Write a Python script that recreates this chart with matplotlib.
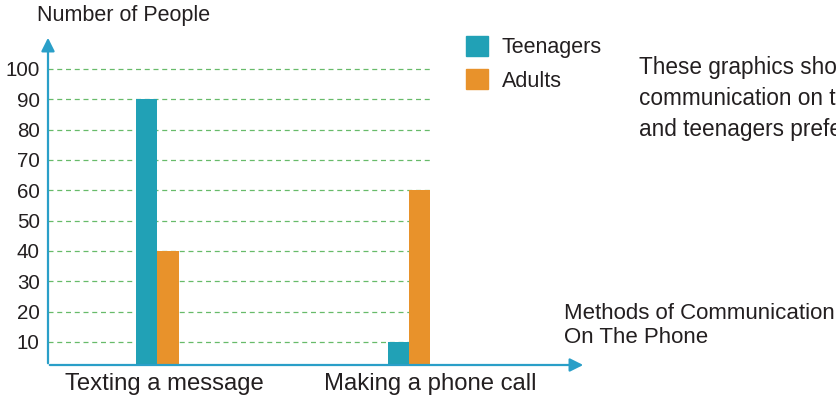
import numpy as np
import matplotlib
matplotlib.use("Agg")
import matplotlib.pyplot as plt
import matplotlib.transforms as mtransforms
from matplotlib.patches import Patch

plt.rcParams['font.family'] = ['Liberation Sans', 'DejaVu Sans']

# data
categories = ["Texting a message", "Making a phone call"]
teenagers = [90, 10]
adults = [40, 60]
series_names = ["Teenagers", "Adults"]
y_ticks = [10, 20, 30, 40, 50, 60, 70, 80, 90, 100]

teen_color = "#21a1b6"
adult_color = "#e8922b"
axis_color = "#2a9fc8"
grid_color = "#4caf50"
text_color = "#231f20"

W, H = 836, 400
fig = plt.figure(figsize=(W / 100, H / 100), dpi=100)

# axes box in pixel terms
left_px, right_px, bottom_px = 48, 430, 365
y_lo, y_hi = 2.4, 102
px_per_unit = 3.033
top_px = bottom_px - (y_hi - y_lo) * px_per_unit
ax = fig.add_axes([left_px / W, 1 - bottom_px / H,
                   (right_px - left_px) / W, (bottom_px - top_px) / H])

x = np.arange(len(categories))
width = 0.0855
ax.bar(x - width / 2, teenagers, width, color=teen_color, zorder=3)
ax.bar(x + width / 2, adults, width, color=adult_color, zorder=3)

ax.set_xlim(-0.435, 1.083)
ax.set_ylim(y_lo, y_hi)

for v in y_ticks:
    ax.axhline(v, color=grid_color, linestyle=(0, (4, 3)), linewidth=0.9, alpha=0.85, zorder=1)

for s in ax.spines.values():
    s.set_visible(False)

ax.set_yticks(y_ticks)
ax.set_yticklabels([str(v) for v in y_ticks], fontsize=14.8, color=text_color)
ax.tick_params(axis='y', length=0, pad=6)

ax.set_xticks(x)
ax.set_xticklabels(categories, fontsize=17.2, color=text_color)
ax.tick_params(axis='x', length=0, pad=6)
shifts = [6.5, 21]
for lab, dx in zip(ax.get_xticklabels(), shifts):
    lab.set_transform(lab.get_transform() + mtransforms.ScaledTranslation(dx / 100, 0, fig.dpi_scale_trans))

# axis arrows
ax.annotate("", xy=(left_px, H - 35), xytext=(left_px, H - bottom_px - 1),
            xycoords='figure pixels', textcoords='figure pixels',
            arrowprops=dict(arrowstyle='-|>', color=axis_color, lw=1.6, mutation_scale=20))
ax.annotate("", xy=(586, H - bottom_px), xytext=(left_px - 1, H - bottom_px),
            xycoords='figure pixels', textcoords='figure pixels',
            arrowprops=dict(arrowstyle='-|>', color=axis_color, lw=1.6, mutation_scale=20))

fig.text(37 / W, 1 - 16 / H, "Number of People", fontsize=15.5, color=text_color, va='center')
fig.text(564 / W, 1 - 325.5 / H, "Methods of Communication\nOn The Phone", fontsize=16,
         color=text_color, va='center', linespacing=1.2)

handles = [Patch(color=teen_color), Patch(color=adult_color)]
fig.legend(handles, series_names, loc='upper left', bbox_to_anchor=(466 / W, 1 - 36 / H),
           frameon=False, fontsize=15.5, handlelength=1.02, handleheight=1.07,
           handletextpad=0.65, labelspacing=0.5, borderpad=0, borderaxespad=0,
           labelcolor=text_color)

fig.text(639 / W, 1 - 98.5 / H,
         "These graphics show the\ncommunication on the phone\nand teenagers prefer",
         fontsize=16.3, color=text_color, va='center', linespacing=1.47)

fig.savefig("out.png", dpi=100)
